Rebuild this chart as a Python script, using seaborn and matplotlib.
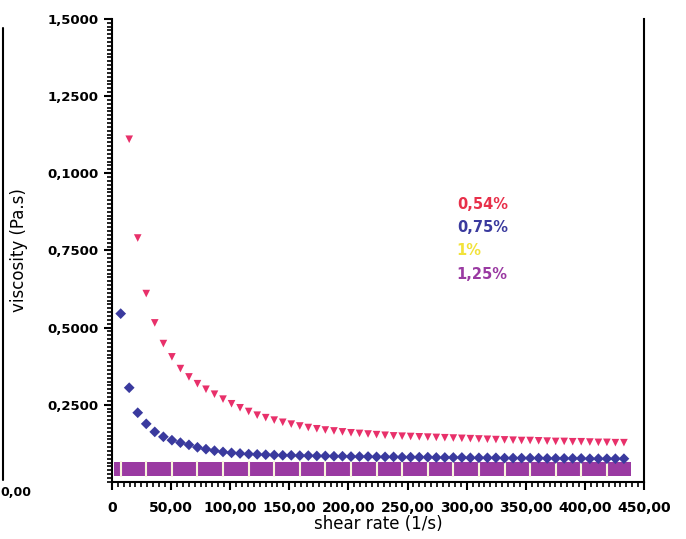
import numpy as np
import pandas as pd
import matplotlib
matplotlib.use("Agg")
import matplotlib.pyplot as plt
from matplotlib.lines import Line2D
from matplotlib.ticker import AutoMinorLocator
import seaborn as sns

# Datos
shear = [7.5, 14.7, 21.9, 29.1, 36.3, 43.6, 50.8, 58.0, 65.2, 72.4,
         79.6, 86.8, 94.0, 101.2, 108.4, 115.7, 122.9, 130.1, 137.3, 144.5,
         151.7, 158.9, 166.1, 173.3, 180.5, 187.8, 195.0, 202.2, 209.4, 216.6,
         223.8, 231.0, 238.2, 245.4, 252.6, 259.9, 267.1, 274.3, 281.5, 288.7,
         295.9, 303.1, 310.3, 317.5, 324.7, 332.0, 339.2, 346.4, 353.6, 360.8,
         368.0, 375.2, 382.4, 389.6, 396.8, 404.1, 411.3, 418.5, 425.7, 432.9]

visc_054 = [1.110, 0.790, 0.610, 0.515, 0.448, 0.405, 0.367, 0.340, 0.318,
            0.300, 0.284, 0.268, 0.253, 0.240, 0.228, 0.216, 0.208, 0.200, 0.193,
            0.187, 0.181, 0.176, 0.172, 0.168, 0.165, 0.162, 0.159, 0.157, 0.155,
            0.153, 0.151, 0.149, 0.148, 0.147, 0.146, 0.145, 0.144, 0.143, 0.142,
            0.141, 0.140, 0.139, 0.138, 0.137, 0.136, 0.135, 0.134, 0.134, 0.133,
            0.132, 0.131, 0.131, 0.130, 0.130, 0.129, 0.128, 0.128, 0.127, 0.127]

visc_075 = [0.545, 0.305, 0.224, 0.188, 0.162, 0.146, 0.135, 0.127, 0.120, 0.112,
            0.106, 0.101, 0.097, 0.094, 0.092, 0.090, 0.089, 0.088, 0.087, 0.086,
            0.086, 0.085, 0.085, 0.084, 0.084, 0.083, 0.083, 0.082, 0.082, 0.082,
            0.081, 0.081, 0.081, 0.080, 0.080, 0.080, 0.080, 0.079, 0.079, 0.079,
            0.079, 0.078, 0.078, 0.078, 0.078, 0.077, 0.077, 0.077, 0.077, 0.077,
            0.076, 0.076, 0.076, 0.076, 0.076, 0.075, 0.075, 0.075, 0.075, 0.075]

shear_1 = [7.5, 29.1, 50.8, 72.4, 94.0, 115.7, 137.3, 158.9, 180.5, 202.2,
           223.8, 245.4, 267.1, 288.7, 310.3, 332.0, 353.6, 375.2, 396.8, 418.5]
visc_1 = [0.043] * 20

visc_125 = [0.042] * 60

yticks = [0.25, 0.5, 0.75, 1.0, 1.25, 1.5]
ytick_labels = ['0,2500', '0,5000', '0,7500', '0,1000', '1,2500', '1,5000']
xticks = [0, 50, 100, 150, 200, 250, 300, 350, 400, 450]
xtick_labels = ['0', '50,00', '100,00', '150,00', '200,00', '250,00',
                '300,00', '350,00', '400,00', '450,00']

legend_labels = ['0,54%', '0,75%', '1%', '1,25%']
colores = ['#e8304a', '#3a3a9e', '#f2e23a', '#9a3aa2']

sns.set_style("ticks")
plt.rcParams['font.family'] = ['DejaVu Sans']
plt.rcParams['text.color'] = 'black'
plt.rcParams['axes.labelcolor'] = 'black'
plt.rcParams['xtick.color'] = 'black'
plt.rcParams['ytick.color'] = 'black'

fig = plt.figure(figsize=(6.86, 5.39), dpi=100)
ax = fig.add_axes([0.163, 0.106, 0.776, 0.859])

sns.scatterplot(x=shear, y=visc_125, marker='s', s=95, color='#9a3aa2',
                edgecolor='none', ax=ax, legend=False)
sns.scatterplot(x=shear_1, y=visc_1, marker='|', s=130, color='#f8f4dc',
                linewidth=1.5, ax=ax, legend=False)
sns.scatterplot(x=shear, y=visc_075, marker='D', s=30, color='#3a3a9e',
                edgecolor='none', ax=ax, legend=False)
sns.scatterplot(x=shear[1:], y=visc_054, marker='v', s=30, color='#e8306a',
                edgecolor='none', ax=ax, legend=False)

ax.set_xlim(0, 450)
ax.set_ylim(0, 1.5)
ax.set_xticks(xticks)
ax.set_xticklabels(xtick_labels, fontsize=10, fontweight='bold')
ax.set_yticks(yticks)
ax.set_yticklabels(ytick_labels, fontsize=9.5, fontweight='bold')
ax.xaxis.set_minor_locator(AutoMinorLocator(10))
ax.yaxis.set_minor_locator(AutoMinorLocator(20))
ax.tick_params(which='major', length=6, width=1.5, color='black', labelcolor='black')
ax.tick_params(which='minor', length=3.5, width=1.2, color='black')
ax.tick_params(axis='x', pad=8)

for lado in ['left', 'bottom', 'right']:
    ax.spines[lado].set_linewidth(1.5)
    ax.spines[lado].set_color('black')
ax.spines['top'].set_visible(False)

ax.set_xlabel('shear rate (1/s)', fontsize=12, labelpad=0)
ax.set_ylabel('viscosity (Pa.s)', fontsize=12, labelpad=14)

ys = [0.600, 0.549, 0.499, 0.447]
for txt, col, yy in zip(legend_labels, colores, ys):
    ax.text(0.648, yy, txt, transform=ax.transAxes, color=col, fontsize=10.5,
            fontweight='bold', va='center', ha='left')

# restos del panel vecino
fig.add_artist(Line2D([3 / 686, 3 / 686], [1 - 28 / 539, 1 - 480 / 539],
                      transform=fig.transFigure, color='black', lw=1.5))
fig.text(16 / 686, 1 - 492 / 539, '0,00', fontsize=9, fontweight='bold',
         ha='center', va='center')

plt.savefig("out.png", dpi=100)
plt.close()
